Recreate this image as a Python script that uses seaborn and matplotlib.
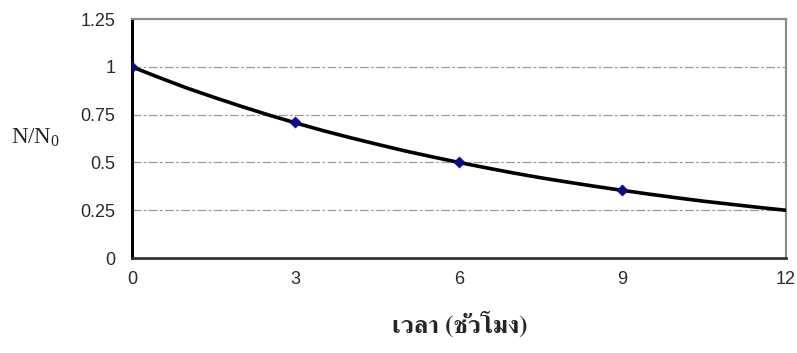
import matplotlib
matplotlib.use("Agg")
import matplotlib.pyplot as plt
import seaborn as sns
import pandas as pd
from matplotlib import font_manager
from matplotlib.ft2font import FT2Font
from matplotlib.ticker import MultipleLocator

# decay curve (every half hour)
hours = [0, 0.5, 1, 1.5, 2, 2.5, 3, 3.5, 4, 4.5, 5, 5.5, 6,
         6.5, 7, 7.5, 8, 8.5, 9, 9.5, 10, 10.5, 11, 11.5, 12]
ratio = [1.0, 0.944, 0.89, 0.841, 0.794, 0.749, 0.707, 0.667, 0.63, 0.595, 0.561, 0.53, 0.5,
         0.472, 0.445, 0.42, 0.397, 0.375, 0.354, 0.334, 0.315, 0.297, 0.281, 0.265, 0.25]

# measured points
point_hours = [0, 3, 6, 9]
point_ratio = [1.0, 0.71, 0.50, 0.355]

x_ticks = [0, 3, 6, 9, 12]
y_ticks = [0, 0.25, 0.5, 0.75, 1, 1.25]
y_ticklabels = ["0", "0.25", "0.5", "0.75", "1", "1.25"]
x_label = "เวลา (ชั่วโมง)"
y_label = r"$\mathregular{N/N_0}$"


def find_thai_font():
    # look for any installed font that covers Thai
    found = []
    for f in font_manager.fontManager.ttflist:
        try:
            cmap = FT2Font(f.fname).get_charmap()
        except Exception:
            continue
        if 0x0E27 in cmap and 0x0E40 in cmap:
            found.append(f)
    if not found:
        return None
    found.sort(key=lambda f: ("serif" not in f.name.lower() or "sans" in f.name.lower(),
                              f.weight != 700))
    return found[0].name


sns.set_style("white")
plt.rcParams["font.family"] = ["Liberation Sans", "DejaVu Sans"]

thai = find_thai_font()
thai_family = [thai, "Liberation Serif", "DejaVu Sans"] if thai else ["Liberation Serif", "DejaVu Sans"]

df = pd.DataFrame({"t": hours, "n": ratio})
pts = pd.DataFrame({"t": point_hours, "n": point_ratio})

fig = plt.figure(figsize=(7.97, 3.53), dpi=100)
ax = fig.add_axes([0.1656, 0.269, 0.8204, 0.677])

for yv in y_ticks[1:-1]:
    ax.axhline(yv, color="#9a9a9a", linewidth=0.9, dashes=(7, 2, 2, 2), zorder=1)

sns.lineplot(data=df, x="t", y="n", color="black", linewidth=2.6, ax=ax, zorder=3)
sns.scatterplot(data=pts, x="t", y="n", marker="D", color="#0a0a8c", s=32,
                edgecolor="#0a0a8c", ax=ax, zorder=4)

ax.set_xlim(0, 12)
ax.set_ylim(0, 1.25)
ax.set_xticks(x_ticks)
ax.set_yticks(y_ticks)
ax.set_yticklabels(y_ticklabels)
ax.xaxis.set_minor_locator(MultipleLocator(1))
ax.yaxis.set_minor_locator(MultipleLocator(0.05))

ax.tick_params(axis="x", which="major", direction="inout", length=8, width=1.6,
               color="black", labelsize=13, labelcolor="#2a2a2a", pad=5)
ax.tick_params(axis="x", which="minor", direction="in", length=4, width=1, color="#444444")
ax.tick_params(axis="y", which="major", direction="out", length=7, width=1.4,
               color="black", labelsize=13, labelcolor="#2a2a2a", pad=5)
ax.tick_params(axis="y", which="minor", direction="in", length=3, width=1, color="black")

ax.spines["left"].set_color("black")
ax.spines["left"].set_linewidth(2.2)
ax.spines["bottom"].set_color("#333333")
ax.spines["bottom"].set_linewidth(2)
for s in ["top", "right"]:
    ax.spines[s].set_color("#8c8c8c")
    ax.spines[s].set_linewidth(1.6)

ax.set_xlabel("")
ax.set_ylabel("")
fig.text(0.044, 0.61, y_label, fontsize=16.5, ha="center", va="center",
         family=["Liberation Serif", "DejaVu Serif"])
fig.text(0.577, 0.08, x_label, fontsize=18, fontweight="bold", ha="center", va="center",
         family=thai_family)

fig.savefig("out.png", dpi=100)
